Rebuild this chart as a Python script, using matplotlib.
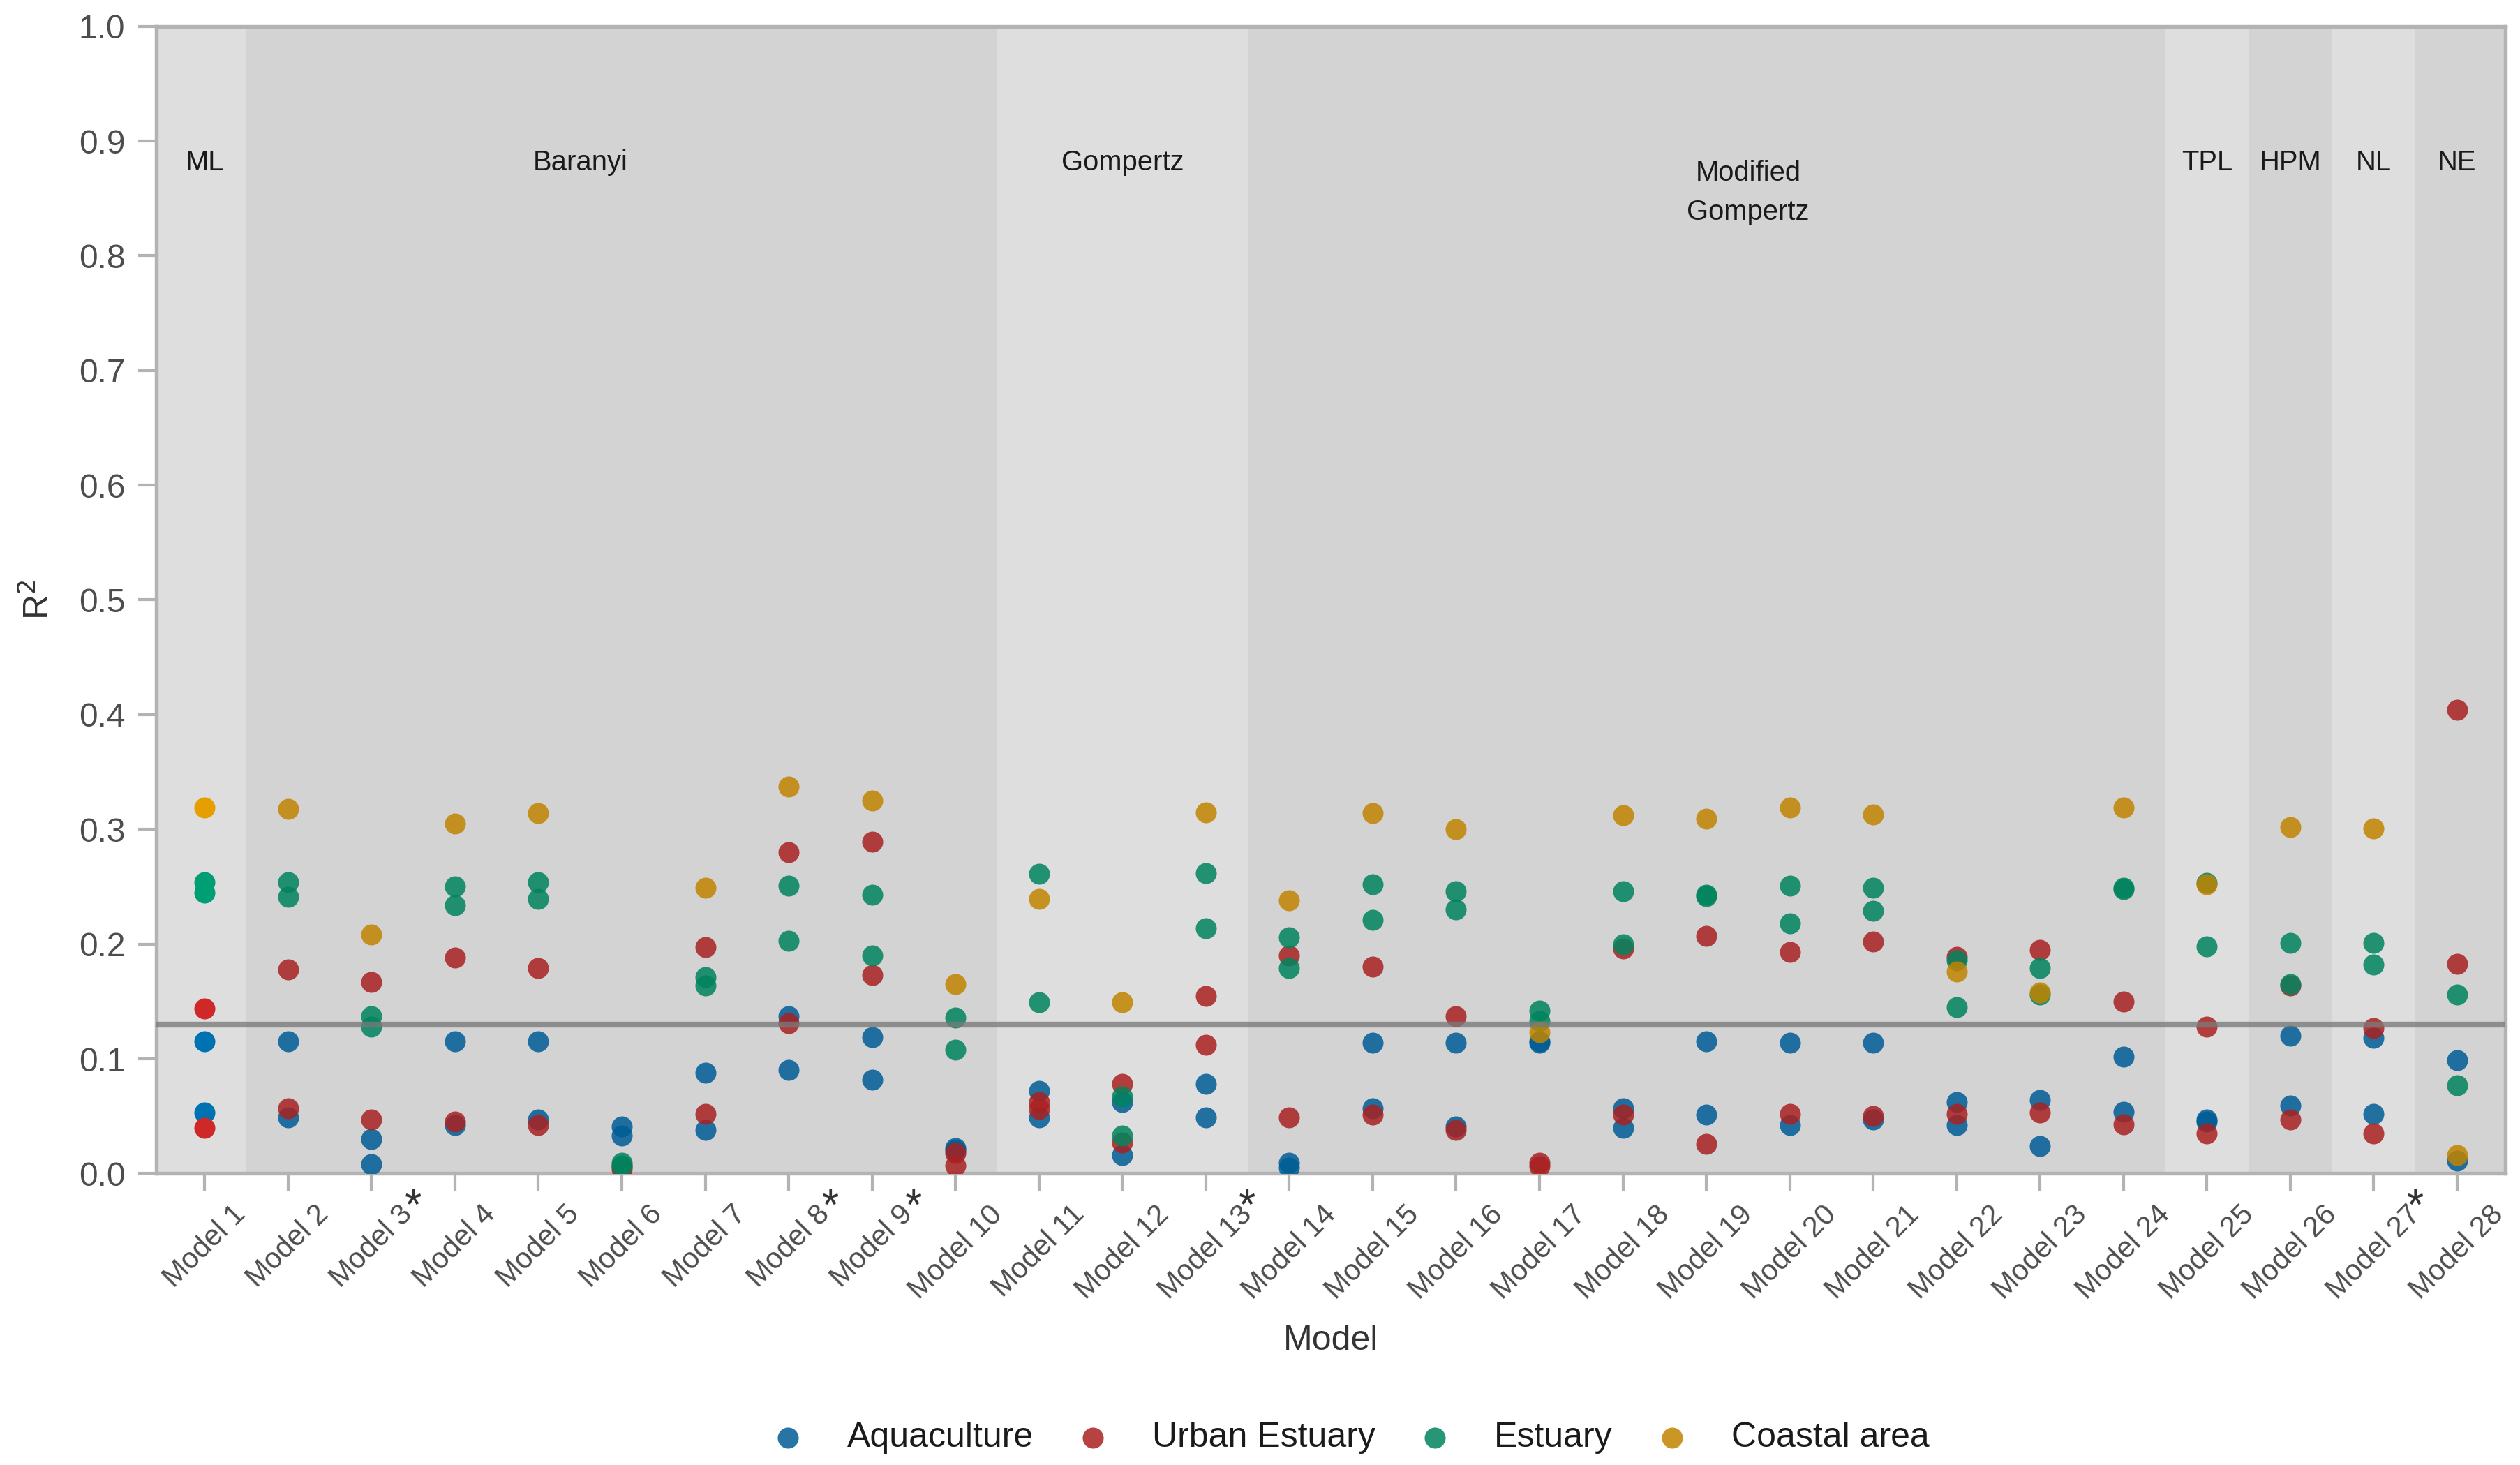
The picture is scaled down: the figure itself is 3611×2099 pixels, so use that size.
import matplotlib
matplotlib.use("Agg")
import matplotlib.pyplot as plt
import matplotlib.transforms as mtransforms
import numpy as np

plt.rcParams['font.family'] = ['Liberation Sans', 'DejaVu Sans']

models = ["Model %d" % i for i in range(1, 29)]
starred = [3, 8, 9, 13, 27]

# two fits per site type (a / b)
aqua_a = [0.115, 0.115, 0.030, 0.115, 0.115, 0.041, 0.088, 0.137, 0.119, 0.022,
          0.072, 0.062, 0.078, 0.009, 0.114, 0.114, 0.115, 0.057, 0.115, 0.114,
          0.114, 0.062, 0.064, 0.102, 0.047, 0.120, 0.118, 0.099]
aqua_b = [0.053, 0.049, 0.008, 0.042, 0.047, 0.033, 0.038, 0.090, 0.082, 0.020,
          0.049, 0.016, 0.049, 0.005, 0.057, 0.041, 0.114, 0.040, 0.051, 0.042,
          0.047, 0.042, 0.024, 0.054, 0.045, 0.059, 0.052, 0.011]
urban_a = [0.144, 0.178, 0.167, 0.188, 0.179, 0.006, 0.197, 0.280, 0.289, 0.018,
           0.062, 0.078, 0.155, 0.190, 0.180, 0.137, 0.009, 0.196, 0.207, 0.193,
           0.202, 0.189, 0.195, 0.150, 0.128, 0.164, 0.127, 0.404]
urban_b = [0.040, 0.057, 0.047, 0.045, 0.042, 0.004, 0.052, 0.131, 0.173, 0.007,
           0.056, 0.027, 0.112, 0.049, 0.051, 0.038, 0.006, 0.051, 0.026, 0.052,
           0.050, 0.052, 0.053, 0.043, 0.035, 0.047, 0.035, 0.183]
estuary_a = [0.254, 0.254, 0.137, 0.250, 0.254, 0.009, 0.171, 0.251, 0.243, 0.136,
             0.261, 0.067, 0.262, 0.206, 0.252, 0.246, 0.142, 0.246, 0.243, 0.251,
             0.249, 0.186, 0.179, 0.249, 0.253, 0.201, 0.201, 0.156]
estuary_b = [0.245, 0.241, 0.128, 0.234, 0.239, 0.007, 0.164, 0.203, 0.190, 0.108,
             0.149, 0.033, 0.214, 0.179, 0.221, 0.230, 0.133, 0.200, 0.242, 0.218,
             0.229, 0.145, 0.156, 0.248, 0.198, 0.165, 0.182, 0.077]
coastal = [0.319, 0.318, 0.208, 0.305, 0.314, np.nan, 0.249, 0.337, 0.325, 0.165,
           0.239, 0.149, 0.315, 0.238, 0.314, 0.300, 0.123, 0.312, 0.309, 0.319,
           0.313, 0.176, 0.158, 0.319, 0.252, 0.302, 0.301, 0.016]
threshold = 0.13

groups = ["ML", "Baranyi", "Gompertz", "Modified\nGompertz", "TPL", "HPM", "NL", "NE"]
group_first = [1, 2, 11, 14, 25, 26, 27, 28]
group_last = [1, 10, 13, 24, 25, 26, 27, 28]
group_label_x = [1, 5.5, 12, 19.5, 25, 26, 27, 28]

series = [("Aquaculture", [aqua_a, aqua_b], "#005D96", "#0072B2"),
          ("Urban Estuary", [urban_a, urban_b], "#A92121", "#CF2828"),
          ("Estuary", [estuary_a, estuary_b], "#00845E", "#009E73"),
          ("Coastal area", [coastal], "#C18400", "#E69F00")]

fig = plt.figure(figsize=(12.04, 6.997), dpi=300)
ax = fig.add_axes([0.062, 0.199, 0.932, 0.783])

x = np.arange(1, 29)
xmin, xmax = 0.42, 28.58
ax.set_xlim(xmin, xmax)
ax.set_ylim(0, 1.0)
ax.set_facecolor("#d3d3d3")

for i, (g, a, b) in enumerate(zip(groups, group_first, group_last)):
    lo = xmin if a == 1 else a - 0.5
    hi = xmax if b == 28 else b + 0.5
    col = "#dedede" if i % 2 == 0 else "#d3d3d3"
    ax.axvspan(lo, hi, color=col, lw=0, zorder=0)
    if "\n" in g:
        ax.text(group_label_x[i], 0.855, g, ha="center", va="center", fontsize=9.6,
                color="#1a1a1a", linespacing=1.6)
    else:
        ax.text(group_label_x[i], 0.881, g, ha="center", va="center", fontsize=9.6,
                color="#1a1a1a")

handles = []
for name, vals, col, col1 in series:
    for v in vals:
        v = np.array(v, dtype=float)
        h = ax.scatter(x[1:], v[1:], s=52, color=col, alpha=0.85, lw=0, zorder=3)
        ax.scatter(x[:1], v[:1], s=52, color=col1, lw=0, zorder=3)
    handles.append((h, name))

ax.axhline(threshold, color="#7a7a7a", lw=2.0, alpha=0.78, zorder=4)

ax.set_yticks(np.arange(0, 1.01, 0.1))
ax.set_yticklabels(["%.1f" % t for t in np.arange(0, 1.01, 0.1)])
ax.set_xticks(x)
ax.set_xticklabels(models, rotation=45, ha="center", va="top")
ax.tick_params(axis="both", length=6.2, width=1.0, color="#b3b3b3",
               labelcolor="#4d4d4d")
ax.tick_params(axis="y", pad=4.5, labelsize=11.5)
ax.tick_params(axis="x", pad=3, labelsize=10)
for sp in ax.spines.values():
    sp.set_color("#b3b3b3")
    sp.set_linewidth(1.3)

trans = mtransforms.blended_transform_factory(ax.transData, ax.transAxes)
for m in starred:
    ax.text(m + 0.5, -0.03, "*", transform=trans, ha="center", va="center",
            fontsize=15, color="#333333")

ax.set_ylabel("R$^2$", fontsize=12, color="#333333", labelpad=8)
fig.text(0.528, 0.085, "Model", ha="center", va="center", fontsize=12, color="#333333")

leg = fig.legend([h for h, n in handles], [n for h, n in handles], loc="center",
                 bbox_to_anchor=(0.5355, 0.0186), ncol=4, frameon=False, fontsize=12,
                 handlelength=1.0, handletextpad=1.2, columnspacing=1.2,
                 borderpad=0.0, labelcolor="#1a1a1a")

fig.savefig("out.png", dpi=300)
